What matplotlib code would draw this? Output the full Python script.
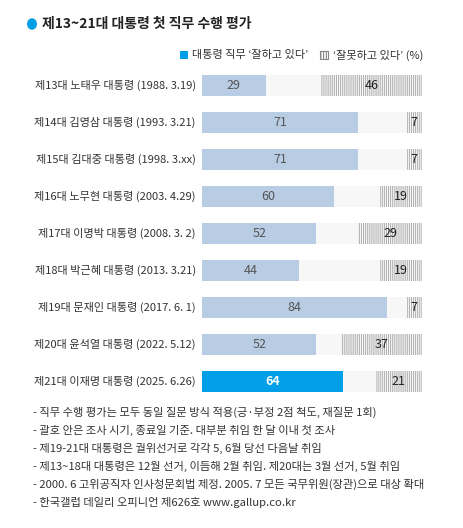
import matplotlib.pyplot as plt
from matplotlib.patches import Patch, Circle

plt.rcParams['font.family'] = ['Noto Sans CJK KR', 'DejaVu Sans']
plt.rcParams['hatch.linewidth'] = 0.8

# Data
labels = [
    "제13대 노태우 대통령 (1988. 3.19)",
    "제14대 김영삼 대통령 (1993. 3.21)",
    "제15대 김대중 대통령 (1998. 3.xx)",
    "제16대 노무현 대통령 (2003. 4.29)",
    "제17대 이명박 대통령 (2008. 3. 2)",
    "제18대 박근혜 대통령 (2013. 3.21)",
    "제19대 문재인 대통령 (2017. 6. 1)",
    "제20대 윤석열 대통령 (2022. 5.12)",
    "제21대 이재명 대통령 (2025. 6.26)",
]
positive = [29, 71, 71, 60, 52, 44, 84, 52, 64]
negative = [46, 7, 7, 19, 29, 19, 7, 37, 21]

notes = [
    "- 직무 수행 평가는 모두 동일 질문 방식 적용(긍·부정 2점 척도, 재질문 1회)",
    "- 괄호 안은 조사 시기, 종료일 기준. 대부분 취임 한 달 이내 첫 조사",
    "- 제19-21대 대통령은 궐위선거로 각각 5, 6월 당선 다음날 취임",
    "- 제13~18대 대통령은 12월 선거, 이듬해 2월 취임. 제20대는 3월 선거, 5월 취임",
    "- 2000. 6 고위공직자 인사청문회법 제정. 2005. 7 모든 국무위원(장관)으로 대상 확대",
    "- 한국갤럽 데일리 오피니언 제626호 www.gallup.co.kr",
]

light_blue = "#b8cce4"
bright_blue = "#009fe8"
bg_grey = "#f7f7f7"
hatch_grey = "#b0b0b0"

W, H = 464, 528
fig = plt.figure(figsize=(W / 100, H / 100), dpi=100)
fig.patch.set_facecolor("white")

# Bars axes
ax = fig.add_axes([202 / W, 1 - 400 / H, 220 / W, 333 / H])
ax.set_xlim(0, 100)
ax.set_ylim(8.5, -0.5)
ax.axis("off")

rows = list(range(len(labels)))
bh = 0.57
ax.barh(rows, [100] * len(rows), height=bh, color=bg_grey, linewidth=0)
colors = [light_blue] * (len(rows) - 1) + [bright_blue]
ax.barh(rows, positive, height=bh, color=colors, linewidth=0)
neg_left = [100 - v for v in negative]
ax.barh(rows, negative, left=neg_left, height=bh, facecolor="white",
        edgecolor=hatch_grey, hatch="||||||||", linewidth=0)

for i, (p, n) in enumerate(zip(positive, negative)):
    last = i == len(rows) - 1
    ax.text(p / 2, i, str(p), ha="center", va="center", fontsize=9,
            color="white" if last else "#555555",
            fontweight="bold" if last else "normal")
    ax.text(100 - n / 2, i, str(n), ha="center", va="center", fontsize=9,
            color="#222222")
    ax.text(-2.8, i, labels[i], ha="right", va="center", fontsize=8,
            color="#333333", clip_on=False)

# Title
fig.patches.append(Circle((32 / W, 1 - 24 / H), 5 / W, transform=fig.transFigure,
                          facecolor=bright_blue, edgecolor="none"))
fig.text(42 / W, 1 - 24 / H, "제13~21대 대통령 첫 직무 수행 평가", fontsize=10,
         fontweight="bold", va="center", ha="left", color="#222222")

# Legend
handles = [
    Patch(facecolor=bright_blue, linewidth=0),
    Patch(facecolor="white", edgecolor="#888888", hatch="||||||", linewidth=0.8),
]
leg = fig.legend(handles, ["대통령 직무 ‘잘하고 있다’", "‘잘못하고 있다’ (%)"],
                 loc="center right", bbox_to_anchor=(423 / W, 1 - 55 / H),
                 ncol=2, frameon=False, fontsize=8, handlelength=0.75,
                 handleheight=0.75, handletextpad=0.4, columnspacing=1.0,
                 borderaxespad=0, borderpad=0)
for t in leg.get_texts():
    t.set_color("#333333")

# Footnotes
for k, line in enumerate(notes):
    fig.text(33 / W, 1 - (412 + k * 18.2) / H, line, fontsize=8.1,
             va="center", ha="left", color="#333333")

fig.savefig("out.png", dpi=100)
